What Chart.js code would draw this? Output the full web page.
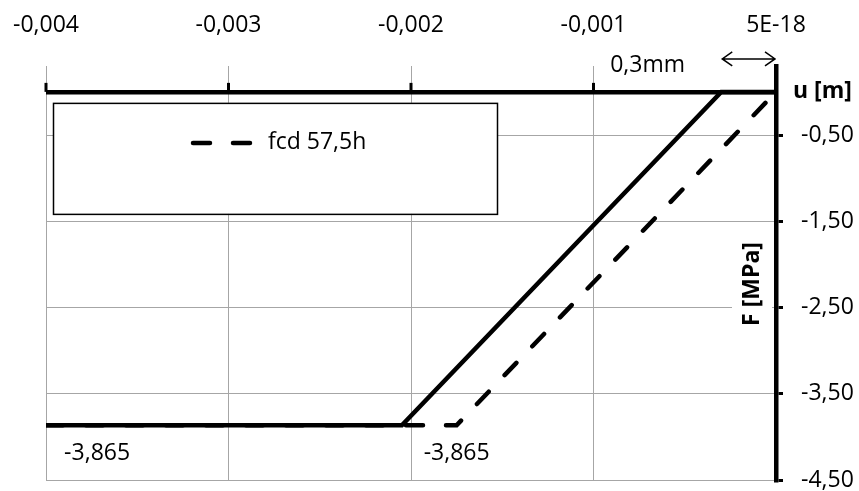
<!DOCTYPE html>
<html lang="en">

<head>
    <meta charset="UTF-8">
    <title>fcd 57,5h</title>
    <script src="https://cdn.jsdelivr.net/npm/chart.js"></script>
    <style>
        body {
            margin: 0;
            background: #fff;
        }
    </style>
</head>

<body>
    <canvas id="chart" width="859" height="491"></canvas>

    <script>
        // data (u in m, F in MPa)
        const solidX = [-0.004, -0.00205, -0.0003, 0];
        const solidY = [-3.865, -3.865, 0, 0];
        const dashedX = [-0.004, -0.00175, 0];
        const dashedY = [-3.865, -3.865, 0];
        const dashedName = 'fcd 57,5h';

        const xTicks = [-0.004, -0.003, -0.002, -0.001, 0];
        const xTickLabels = ['-0,004', '-0,003', '-0,002', '-0,001', '5E-18'];
        const yTicks = [0, -0.5, -1.5, -2.5, -3.5, -4.5];
        const yTickLabels = ['', '-0,50', '-1,50', '-2,50', '-3,50', '-4,50'];

        const labelX = [-0.00372, -0.00175];
        const labelY = [-3.865, -3.865];
        const labelText = ['-3,865', '-3,865'];
        const shiftFrom = -0.0003, shiftTo = 0;

        const FONT = '"Open Sans", "Noto Sans", sans-serif';
        const GRID = '#a6a6a6';

        function toPoints(xs, ys) {
            return xs.map((v, i) => ({ x: v, y: ys[i] }));
        }

        // no extra room for overhanging tick labels, the layout padding handles it
        function noPad(s) {
            s.paddingLeft = s.paddingRight = s.paddingTop = s.paddingBottom = 0;
        }

        // annotations, legend box and axis titles
        const extras = {
            id: 'extras',
            afterDatasetsDraw(chart) {
                const { ctx, chartArea, scales: { x, y } } = chart;
                const y0 = y.getPixelForValue(0);
                ctx.save();

                // small tick marks on the x axis line
                ctx.strokeStyle = '#000';
                ctx.lineWidth = 3;
                xTicks.slice(0, -1).forEach(v => {
                    const px = x.getPixelForValue(v);
                    ctx.beginPath();
                    ctx.moveTo(px, y0 - 9);
                    ctx.lineTo(px, y0);
                    ctx.stroke();
                });

                // data labels
                ctx.fillStyle = '#000';
                ctx.font = '23px ' + FONT;
                ctx.textAlign = 'center';
                ctx.textBaseline = 'middle';
                labelText.forEach((t, i) => {
                    ctx.fillText(t, x.getPixelForValue(labelX[i]), y.getPixelForValue(labelY[i]) + 28);
                });

                // 0,3mm shift arrow
                const a1 = x.getPixelForValue(shiftFrom) + 1, a2 = x.getPixelForValue(shiftTo) - 1;
                const ay = y0 - 33;
                ctx.lineWidth = 1.5;
                ctx.beginPath();
                ctx.moveTo(a1, ay); ctx.lineTo(a2, ay);
                ctx.moveTo(a1 + 10, ay - 7); ctx.lineTo(a1, ay); ctx.lineTo(a1 + 10, ay + 7);
                ctx.moveTo(a2 - 10, ay - 7); ctx.lineTo(a2, ay); ctx.lineTo(a2 - 10, ay + 7);
                ctx.stroke();
                ctx.fillText('0,3mm', (a1 + a2) / 2 - 101, y0 - 26);

                // axis titles
                ctx.font = 'bold 23px ' + FONT;
                ctx.textAlign = 'left';
                ctx.fillText('u [m]', chartArea.right + 17, y0);
                const fx = chartArea.right - 24, fy = 284;
                ctx.fillStyle = '#fff';
                ctx.fillRect(fx - 20, fy - 52, 40, 104);
                ctx.fillStyle = '#000';
                ctx.translate(fx, fy);
                ctx.rotate(-Math.PI / 2);
                ctx.textAlign = 'center';
                ctx.fillText('F [MPa]', 0, 0);
                ctx.setTransform(1, 0, 0, 1, 0, 0);

                // legend box
                const lx = chartArea.left + 7, ly = y0 + 11;
                ctx.fillStyle = '#fff';
                ctx.fillRect(lx, ly, 444, 111);
                ctx.strokeStyle = '#000';
                ctx.lineWidth = 1.5;
                ctx.strokeRect(lx + 0.5, ly + 0.5, 444, 111);
                const ds = chart.data.datasets[1];
                ctx.lineWidth = ds.borderWidth;
                ctx.lineCap = 'round';
                ctx.setLineDash(ds.borderDash);
                ctx.beginPath();
                ctx.moveTo(lx + 140, ly + 40);
                ctx.lineTo(lx + 197, ly + 40);
                ctx.stroke();
                ctx.setLineDash([]);
                ctx.fillStyle = '#000';
                ctx.font = '23px ' + FONT;
                ctx.textAlign = 'left';
                ctx.fillText(ds.label, lx + 215, ly + 40);

                ctx.restore();
            }
        };

        new Chart(document.getElementById('chart'), {
            type: 'scatter',
            data: {
                datasets: [{
                    label: '',
                    data: toPoints(solidX, solidY),
                    showLine: true,
                    borderColor: '#000',
                    borderWidth: 4.5,
                    pointRadius: 0,
                    fill: false
                }, {
                    label: dashedName,
                    data: toPoints(dashedX, dashedY),
                    showLine: true,
                    borderColor: '#000',
                    borderWidth: 4.5,
                    borderDash: [17, 23],
                    borderCapStyle: 'round',
                    pointRadius: 0,
                    fill: false
                }]
            },
            options: {
                responsive: false,
                animation: false,
                layout: { padding: { left: 46, bottom: 11 } },
                plugins: {
                    legend: { display: false },
                    tooltip: { enabled: false }
                },
                scales: {
                    x: {
                        type: 'linear',
                        position: 'top',
                        min: -0.004,
                        max: 0,
                        afterBuildTicks: s => { s.ticks = xTicks.map(v => ({ value: v })); },
                        afterFit: s => { s.height = 66; noPad(s); },
                        border: { display: false },
                        grid: {
                            drawTicks: false,
                            color: c => c.tick && c.tick.value === 0 ? 'rgba(0,0,0,0)' : GRID,
                            lineWidth: 1
                        },
                        ticks: {
                            padding: 27,
                            maxRotation: 0,
                            autoSkip: false,
                            color: '#000',
                            font: { family: FONT, size: 23 },
                            callback: (v, i) => xTickLabels[i]
                        }
                    },
                    y: {
                        type: 'linear',
                        position: 'right',
                        min: -4.5,
                        max: 0.3,
                        afterBuildTicks: s => { s.ticks = yTicks.map(v => ({ value: v })); },
                        afterFit: s => { s.width = 83; noPad(s); },
                        border: { display: true, color: '#000', width: 4.5 },
                        grid: {
                            color: c => c.tick && c.tick.value === 0 ? '#000' : GRID,
                            lineWidth: c => c.tick && c.tick.value === 0 ? 4.5 : 1,
                            tickColor: c => c.tick && c.tick.value === 0 ? 'rgba(0,0,0,0)' : '#000',
                            tickWidth: 3,
                            tickLength: 7
                        },
                        ticks: {
                            padding: 18,
                            color: '#000',
                            font: { family: FONT, size: 23 },
                            callback: (v, i) => yTickLabels[i]
                        }
                    }
                }
            },
            plugins: [extras]
        });
    </script>

</body>

</html>
